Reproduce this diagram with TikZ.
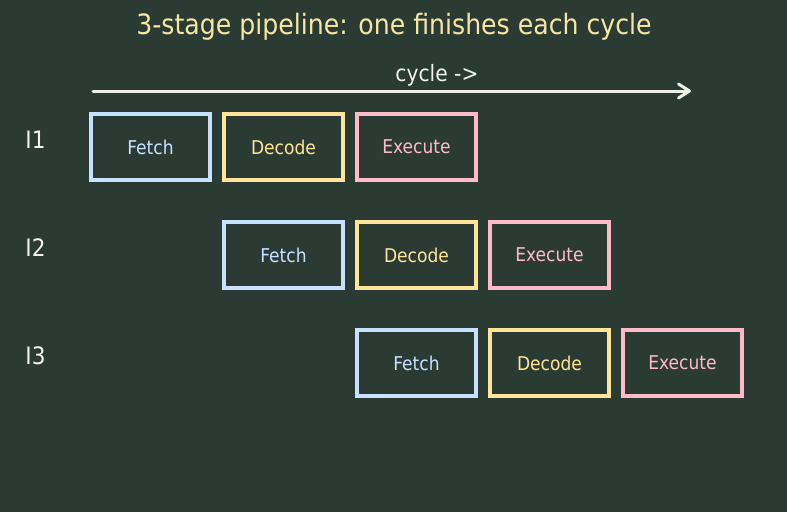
\documentclass[tikz,border=0pt]{standalone}
\usepackage{fontspec}
\setmainfont{DejaVu Sans Condensed}
\usepackage{tikz}
\usetikzlibrary{positioning,arrows.meta}
\definecolor{canvas}{HTML}{2B3B34}
\definecolor{titlecol}{HTML}{F7E6A3}
\definecolor{axiscol}{HTML}{EEF0E6}
\definecolor{labelcol}{HTML}{F2F2EC}
\definecolor{fetchcol}{HTML}{C6E2FF}
\definecolor{decodecol}{HTML}{FFE599}
\definecolor{execcol}{HTML}{FFBACA}
\begin{document}
\begin{tikzpicture}[
    x=1pt,y=-1pt,
    stagebox/.style={draw=#1,text=#1,line width=3.5pt,minimum width=119pt,minimum height=66pt,inner sep=0pt,font=\fontsize{19}{22}\selectfont},
    fetchbox/.style={stagebox=fetchcol},
    decodebox/.style={stagebox=decodecol},
    execbox/.style={stagebox=execcol},
    rowlabel/.style={anchor=base,text=labelcol,font=\fontsize{24}{28}\selectfont},
    title/.style={anchor=base,text=titlecol,font=\fontsize{28}{32}\selectfont},
    axis/.style={draw=axiscol,line width=3pt,line cap=round,-{Straight Barb[length=11pt,width=14pt,line cap=round,line join=round]}}
]
\fill[canvas] (0,0) rectangle (787,512);
\node[title] (head) at (394,34) {3-stage pipeline: one finishes each cycle};
% time axis
\coordinate (tstart) at (93,91);
\coordinate (tend) at (691,91);
\draw[axis] (tstart) -- (tend);
\node[anchor=base,text=labelcol,font=\fontsize{22.5}{26}\selectfont] (cyc) at (437,81) {cycle ->};
% instruction 1
\node[rowlabel] (i1) at (35.5,148) {I1};
\node[fetchbox] (f1) at (150.5,147) {Fetch};
\node[decodebox] (d1) at (283.5,147) {Decode};
\node[execbox] (x1) at (416.5,147) {Execute};
% instruction 2
\node[rowlabel] (i2) at (35.5,256) {I2};
\node[fetchbox] (f2) at (283.5,255) {Fetch};
\node[decodebox] (d2) at (416.5,255) {Decode};
\node[execbox] (x2) at (549.5,255) {Execute};
% instruction 3
\node[rowlabel] (i3) at (35.5,364) {I3};
\node[fetchbox] (f3) at (416.5,363) {Fetch};
\node[decodebox] (d3) at (549.5,363) {Decode};
\node[execbox] (x3) at (682.5,363) {Execute};
\end{tikzpicture}
\end{document}
